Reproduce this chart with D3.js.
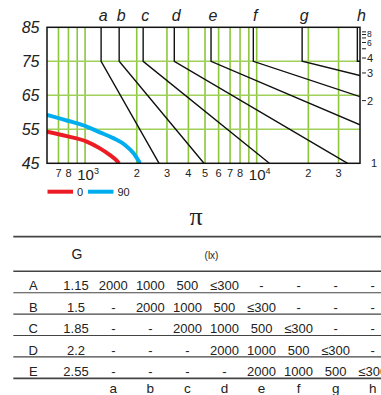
<!DOCTYPE html>
<html>
<head>
<meta charset="utf-8"/>
<title>Chart</title>
<script src="https://cdn.jsdelivr.net/npm/d3@7"></script>
<style>
  body { margin: 0; background: #fff; }
  svg text { font-family: "Liberation Sans", Arial, sans-serif; fill: #222; }
</style>
</head>
<body>
<script>
// axis ticks
var luxTicks = [700, 800, 900, 1000, 2000, 3000, 4000, 5000, 6000, 7000, 8000, 9000, 10000, 20000, 30000];
var luxLabels = ["7", "8", "", "10|3", "2", "3", "4", "5", "6", "7", "8", "", "10|4", "2", "3"];
var angleTicks = [45, 55, 65, 75, 85];
var ratioTicks = [2, 3, 4, 5, 6, 7, 8, 9];
var ratioLabels = ["2", "3", "4", "", "6", "", "8", ""];

// guide lines a..h : lux of the vertical part, then where the slope ends
var guideNames = ["a", "b", "c", "d", "e", "f", "g", "h"];
var guideLux = [1240, 1580, 2180, 3310, 5420, 9560, 18400, 38600];
var guideEndLux = [2700, 4930, 11850, 33900, 40000, 40000, 40000, 40000];
var guideEndAngle = [45, 45, 45, 45, 56.3, 64.6, 70.8, 75];

// curves
var seriesNames = ["0", "90"];
var seriesColors = ["#ec1c24", "#00aeef"];
var lux0 = [600, 781, 1022, 1221, 1398, 1529, 1577];
var angle0 = [54.3, 53.0, 51.4, 49.4, 47.4, 45.8, 45];
var lux90 = [600, 781, 1022, 1221, 1460, 1709, 1911, 2090];
var angle90 = [59.2, 57.6, 55.8, 54.1, 52.4, 50.4, 48.0, 45];

// table
var tableTitle = "π";
var rowLabels = ["A", "B", "C", "D", "E"];
var gValues = ["1.15", "1.5", "1.85", "2.2", "2.55"];
var colLabels = ["a", "b", "c", "d", "e", "f", "g", "h"];
var rowValues = [
  ["2000", "1000", "500", "≤300", "-", "-", "-", "-"],
  ["-", "2000", "1000", "500", "≤300", "-", "-", "-"],
  ["-", "-", "2000", "1000", "500", "≤300", "-", "-"],
  ["-", "-", "-", "2000", "1000", "500", "≤300", "-"],
  ["-", "-", "-", "-", "2000", "1000", "500", "≤300"]
];

var svg = d3.select("body").append("svg").attr("width", 381).attr("height", 395);

// plot box (don't use "top" - it's window.top)
var pl = 47, pr = 360, pt = 27.3, pb = 163.3;
var x = d3.scaleLog().domain([600, 40000]).range([pl, pr]);
var y = d3.scaleLinear().domain([45, 85]).range([pb, pt]);

svg.append("clipPath").attr("id", "plot")
  .append("rect").attr("x", pl).attr("y", pt).attr("width", pr - pl).attr("height", pb - pt);

// green grid
var green = "#8cc63f";
svg.append("g").selectAll("line").data(luxTicks).join("line")
  .attr("x1", function(d) { return x(d); }).attr("x2", function(d) { return x(d); })
  .attr("y1", pt).attr("y2", pb)
  .attr("stroke", green).attr("stroke-width", 1.6);
svg.append("g").selectAll("line").data(angleTicks.slice(1, 4)).join("line")
  .attr("x1", pl).attr("x2", pr)
  .attr("y1", function(d) { return y(d); }).attr("y2", function(d) { return y(d); })
  .attr("stroke", "#9fd05a").attr("stroke-width", 1.6);

// guides
var g = svg.append("g").attr("clip-path", "url(#plot)");
guideNames.forEach(function(n, i) {
  var pts = [[guideLux[i], 85], [guideLux[i], 75], [guideEndLux[i], guideEndAngle[i]]];
  g.append("path")
    .attr("d", d3.line().x(function(p) { return x(p[0]); }).y(function(p) { return y(p[1]); })(pts))
    .attr("fill", "none").attr("stroke", "#111").attr("stroke-width", 1.4);
});
svg.append("g").selectAll("text").data(guideNames).join("text")
  .attr("x", function(d, i) { return x(guideLux[i]) + (i == 7 ? 4 : 2); })
  .attr("y", 20.5)
  .attr("text-anchor", "middle")
  .attr("font-size", 16).attr("font-style", "italic")
  .text(function(d) { return d; });

// red and blue curves
var curveData = [d3.zip(lux0, angle0), d3.zip(lux90, angle90)];
curveData.forEach(function(pts, i) {
  g.append("path")
    .attr("d", d3.line().curve(d3.curveMonotoneX).x(function(p) { return x(p[0]); }).y(function(p) { return y(p[1]); })(pts))
    .attr("fill", "none").attr("stroke", seriesColors[i]).attr("stroke-width", 4);
});

// frame
svg.append("rect").attr("x", pl).attr("y", pt).attr("width", pr - pl).attr("height", pb - pt)
  .attr("fill", "none").attr("stroke", "#111").attr("stroke-width", 1.5);

// y labels
svg.append("g").selectAll("text").data(angleTicks).join("text")
  .attr("x", 39.5).attr("y", function(d) { return y(d) + 6; })
  .attr("text-anchor", "end").attr("font-size", 16).attr("font-style", "italic")
  .text(function(d) { return d; });

// x labels
var xl = svg.append("g").selectAll("text").data(luxTicks).join("text")
  .attr("x", function(d, i) { return x(d) + (luxLabels[i].indexOf("|") >= 0 ? 3 : 0); })
  .attr("y", 177)
  .attr("text-anchor", "middle").attr("font-size", 11);
xl.each(function(d, i) {
  var t = d3.select(this), s = luxLabels[i];
  if (s.indexOf("|") >= 0) {
    var parts = s.split("|");
    t.attr("y", 180);
    t.append("tspan").attr("font-size", 15).text(parts[0]);
    t.append("tspan").attr("font-size", 9).attr("dy", -6).text(parts[1]);
  } else {
    t.text(s);
  }
});

// right ratio scale (tan of angle)
function yr(v) { return y(Math.atan(v) * 180 / Math.PI); }
svg.append("g").selectAll("line").data(ratioTicks).join("line")
  .attr("x1", 362).attr("x2", 366)
  .attr("y1", function(d) { return yr(d); }).attr("y2", function(d) { return yr(d); })
  .attr("stroke", "#222").attr("stroke-width", 1);
svg.append("g").selectAll("text").data(ratioTicks).join("text")
  .attr("x", 367).attr("y", function(d) { return yr(d) + (d == 8 ? 2 : d == 6 ? 3.5 : 4); })
  .attr("font-size", function(d) { return d > 5 ? 8.5 : 11; })
  .text(function(d, i) { return ratioLabels[i]; });
svg.append("text").attr("x", 371).attr("y", yr(1) + 4).attr("font-size", 11).text("1");

// legend
seriesNames.forEach(function(n, i) {
  var x0 = [47.5, 88][i];
  svg.append("line").attr("x1", x0).attr("x2", x0 + 25.5).attr("y1", 191.7).attr("y2", 191.7)
    .attr("stroke", seriesColors[i]).attr("stroke-width", 4);
  svg.append("text").attr("x", x0 + 29.5).attr("y", 195.8).attr("font-size", 11).text(n);
});

// table
svg.append("text").attr("x", 196).attr("y", 225).attr("text-anchor", "middle")
  .style("font-family", "'Liberation Serif', 'DejaVu Serif', serif")
  .attr("font-size", 26).text(tableTitle);

var cx = d3.scalePoint().domain(colLabels).range([113.3, 372.7]);
var ry = d3.scaleBand().domain(rowLabels).range([271.3, 378.3]);
var lineColor = "#444";
function hline(yy, w) {
  svg.append("line").attr("x1", 13.3).attr("x2", 381).attr("y1", yy).attr("y2", yy)
    .attr("stroke", lineColor).attr("stroke-width", w);
}
hline(236.7, 1.8);
hline(271.3, 1.5);
rowLabels.slice(1).forEach(function(r) { hline(ry(r), 1.1); });
hline(378.3, 1.8);

svg.append("text").attr("x", 77).attr("y", 259).attr("text-anchor", "middle").attr("font-size", 14).text("G");
svg.append("text").attr("x", 211.5).attr("y", 258.5).attr("text-anchor", "middle").attr("font-size", 10).text("(lx)");

var rows = svg.append("g").selectAll("g").data(rowLabels).join("g")
  .attr("transform", function(d) { return "translate(0," + (ry(d) + ry.bandwidth() - 2.3) + ")"; });
rows.append("text").attr("x", 33.3).attr("text-anchor", "middle").attr("font-size", 13).text(function(d) { return d; });
rows.append("text").attr("x", 76).attr("text-anchor", "middle").attr("font-size", 13).text(function(d, i) { return gValues[i]; });
rows.each(function(d, i) {
  d3.select(this).selectAll("text.v").data(rowValues[i]).join("text").attr("class", "v")
    .attr("x", function(v, j) { return cx(colLabels[j]); })
    .attr("text-anchor", "middle").attr("font-size", 13)
    .text(function(v) { return v; });
});
svg.append("g").selectAll("text").data(colLabels).join("text")
  .attr("x", function(d) { return cx(d); }).attr("y", 393)
  .attr("text-anchor", "middle").attr("font-size", 13.5)
  .text(function(d) { return d; });
</script>
</body>
</html>
